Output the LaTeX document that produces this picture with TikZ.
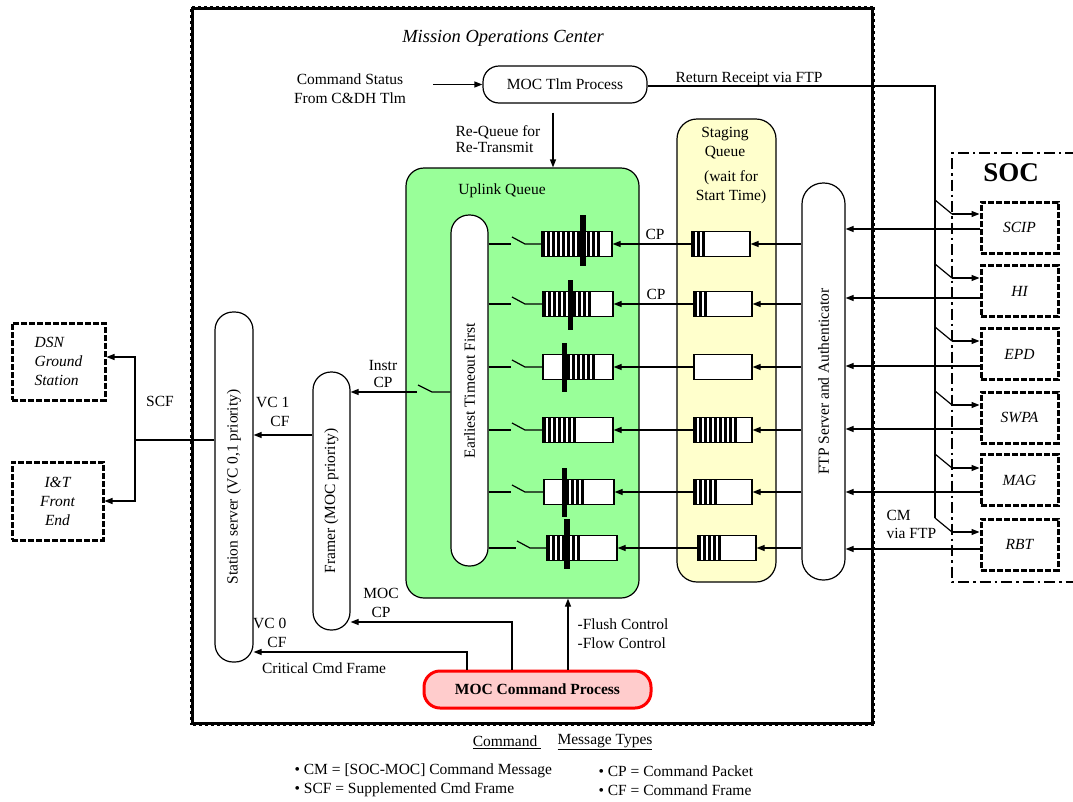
\documentclass[tikz,border=0pt]{standalone}
\usepackage{fontspec}
\setmainfont{Liberation Serif}
\usepackage{graphicx}
\usetikzlibrary{arrows.meta}
\definecolor{uplinkgreen}{HTML}{99FF99}
\definecolor{stageyellow}{HTML}{FFFFCC}
\definecolor{cmdpink}{HTML}{FFCCCC}
\definecolor{cmdred}{HTML}{FF0000}
\newcommand{\qstripes}[2]{\foreach \s in {#1}{\fill (\s,#2) rectangle ++(3,25);}}

\begin{document}
\begin{tikzpicture}[x=1pt,y=-1pt,line width=1.2pt,
every node/.style={font=\fontsize{15.5}{19}\selectfont,inner sep=0pt},
arr/.style={-{Triangle[length=8pt,width=6pt]}},
pill/.style={draw,fill=white,rounded corners=18pt},
qbox/.style={draw,fill=white,minimum width=70pt,minimum height=25pt},
sbox/.style={qbox,minimum width=58pt},
extbox/.style={draw,line width=3pt,dash pattern=on 6pt off 2pt,
  font=\fontsize{15.5}{19}\selectfont\itshape},
socbox/.style={extbox,minimum width=77pt,minimum height=51pt},
lbl/.style={align=center}
]
\useasboundingbox (0,0) rectangle (1073,801);

% mission operations center
\node[draw,line width=4pt,minimum width=681pt,minimum height=716pt] (moc) at (532.5,366) {};
\draw[white,line width=2pt,dash pattern=on 3pt off 3pt] (moc.north west) rectangle (moc.south east);
\node[font=\fontsize{18.5}{20}\selectfont\itshape] (moclbl) at (503,38) {Mission Operations Center};

% SOC side
\draw[line width=2.5pt,dash pattern=on 11pt off 4pt on 2.5pt off 4pt]
  (1076,153) -- (952,153) -- (952,582) -- (1076,582);
\node[font=\fontsize{27}{30}\selectfont\bfseries] (soclbl) at (1011,173) {SOC};
\node[socbox] (scip) at (1019.5,227.5) {SCIP};
\node[socbox] (hi)   at (1019.5,291)   {HI};
\node[socbox] (epd)  at (1019.5,354)   {EPD};
\node[socbox] (swpa) at (1019.5,417.5) {SWPA};
\node[socbox] (mag)  at (1019.5,480)   {MAG};
\node[socbox] (rbt)  at (1019.5,544.5) {RBT};

% ground side
\node[extbox,align=left,minimum width=93pt,minimum height=77pt] (dsn) at (58.5,361.5) {DSN\\Ground\\Station};
\node[extbox,align=center,minimum width=91pt,minimum height=78pt] (it) at (57.5,501) {I\&T\\Front\\End};

% queues
\node[draw,fill=uplinkgreen,rounded corners=18pt,minimum width=233pt,minimum height=430pt] (uplink) at (522.5,383) {};
\node (uplinklbl) at (502,191) {Uplink Queue};
\node[draw,fill=stageyellow,rounded corners=20pt,minimum width=99pt,minimum height=463pt] (staging) at (726.5,350.5) {};
\node[lbl] (staginglbl) at (725,143) {Staging\\Queue};
\node[lbl] (waitlbl) at (731,187) {(wait for\\Start Time)};

% processes and servers
\node[pill,rounded corners=16pt,minimum width=164pt,minimum height=37pt] (tlm) at (565,84.5) {MOC Tlm Process};
\node[pill,minimum width=37pt,minimum height=351pt] (etf) at (469.5,390.5) {\rotatebox{90}{Earliest Timeout First}};
\node[pill,minimum width=38pt,minimum height=350pt] (station) at (234,487) {\rotatebox{90}{Station server (VC 0,1 priority)}};
\node[pill,minimum width=37pt,minimum height=258pt] (framer) at (331.5,501) {\rotatebox{90}{Framer (MOC priority)}};
\node[pill,rounded corners=21pt,minimum width=43pt,minimum height=397pt] (ftp) at (823.5,381.5) {\rotatebox{90}{FTP Server and Authenticator}};
\node[draw=cmdred,fill=cmdpink,line width=3pt,rounded corners=16pt,minimum width=227pt,minimum height=37pt] (cmdproc) at (537.5,689.5) {\textbf{MOC Command Process}\hspace{14pt}};

% uplink queue rows
\node[qbox] (q1) at (577,244) {};
\node[qbox] (q2) at (578,304) {};
\node[qbox] (q3) at (578,367) {};
\node[qbox] (q4) at (578,430) {};
\node[qbox] (q5) at (579,492) {};
\node[qbox] (q6) at (582,548) {};
\qstripes{542,547,...,597}{231.5}
\qstripes{543,548,...,588}{291.5}
\qstripes{562,567,...,592}{354.5}
\qstripes{543,548,...,573}{417.5}
\qstripes{566,571,...,581}{479.5}
\qstripes{547,552,...,580}{535.5}
\fill (580,215) rectangle (586,266);
\fill (568,280) rectangle (573,330);
\fill (562,343) rectangle (567,392);
\fill (562,468) rectangle (567,517);
\fill (564,519) rectangle (570,569);

% staging queue rows
\node[sbox] (s1) at (721,244) {};
\node[sbox] (s2) at (723,304) {};
\node[sbox] (s3) at (723,367) {};
\node[sbox] (s4) at (723,430) {};
\node[sbox] (s5) at (723,492) {};
\node[sbox] (s6) at (727,548) {};
\qstripes{692,697,702}{231.5}
\qstripes{694,699,704}{291.5}
\qstripes{694,699,...,734}{417.5}
\qstripes{694,699,...,714}{479.5}
\qstripes{698,703,...,718}{535.5}

% row connectors with switches
\foreach \i/\y/\sx in {1/244/511,2/304/511,3/367/511,4/430/511,5/492/511,6/548/516}{
  \draw (etf.east |- 0,\y) -- (\sx,\y);
  \draw (\sx+1,\y-7) -- (\sx+14,\y) -- (q\i.west);
  \draw[arr] (s\i.west) -- (q\i.east);
  \draw[arr] (ftp.west |- 0,\y) -- (s\i.east);
}
\node (cpa) at (655,234) {CP};
\node (cpb) at (656,294) {CP};

% SOC to FTP server
\foreach \n/\y in {scip/229,hi/298,epd/366,swpa/429,mag/492,rbt/549}
  \draw[arr] (\n.west |- 0,\y) -- (ftp.east |- 0,\y);
\node[align=left,anchor=west,font=\fontsize{15.5}{18}\selectfont] (cmlbl) at (886,524) {CM\\via FTP};

% return receipt
\coordinate (rrtop) at (935,86);
\coordinate (rrbot) at (935,518);
\draw (tlm.east |- rrtop) -- (rrtop) -- (rrbot);
\node (rrlbl) at (749,79) {Return Receipt via FTP};
\foreach \n/\y in {scip/214,hi/278,epd/341,swpa/405,mag/468,rbt/532}{
  \draw (935,\y-14) -- (952,\y);
  \draw[arr] (952,\y) -- (\n.west |- 0,\y);
}

% telemetry in
\node[lbl] (cmdstat) at (350,89) {Command Status\\From C\&DH Tlm};
\coordinate (csout) at (433,84.5);
\draw[arr] (csout) -- (tlm.west);
\draw[arr] (tlm.south -| 553,0) ++(0,9) -- (uplink.north -| 553,0);
\node[align=left,anchor=west,font=\fontsize{15.5}{16}\selectfont] (requeue) at (455,139) {Re-Queue for\\Re-Transmit};

% instrument packets to framer
\draw (etf.west |- 0,392) -- (432,392) -- (418,385);
\draw[arr] (417,392) -- (framer.east |- 0,392);
\node[lbl,font=\fontsize{15.5}{17}\selectfont] (instrlbl) at (383,374) {Instr\\CP};
\draw[arr] (framer.west |- 0,435) -- (station.east |- 0,435);
\node[align=right,anchor=east] (vc1lbl) at (290,412) {VC 1\\CF};

% frames to ground
\coordinate (scfj) at (135,440);
\draw (station.west |- scfj) -- (scfj);
\draw[arr] (scfj) -- (scfj |- 0,357) -- (dsn.east |- 0,357);
\draw[arr] (scfj) |- (it.east);
\node (scflbl) at (160,401) {SCF};

% command process outputs
\draw[arr] (cmdproc.north -| 467,0) |- (station.east |- 0,652);
\draw[arr] (cmdproc.north -| 512,0) |- (framer.east |- 0,622);
\draw[arr] (cmdproc.north -| 568,0) -- (uplink.south -| 568,0);
\node[align=right,anchor=east] (vc0lbl) at (287,633) {VC 0\\CF};
\node (critlbl) at (324,668) {Critical Cmd Frame};
\node[lbl] (moccplbl) at (381,603) {MOC\\CP};
\node[align=left,anchor=west] (flushlbl) at (577,634) {-Flush Control\\-Flow Control};

% legend
\node (legcmd) at (507,742) {\underline{Command\ }};
\node (legmsg) at (605,742) {\underline{Message Types}};
\node[align=left,anchor=west] (legleft) at (294,780.5) {\textbullet\ CM = [SOC-MOC] Command Message\\\textbullet\ SCF = Supplemented Cmd Frame};
\node[align=left,anchor=west] (legright) at (598,780.5) {\textbullet\ CP = Command Packet\\\textbullet\ CF = Command Frame};
\end{tikzpicture}
\end{document}
